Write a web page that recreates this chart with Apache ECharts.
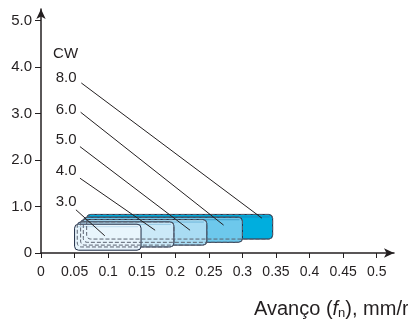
<!DOCTYPE html>
<html><head><meta charset="utf-8">
<script src="https://cdn.jsdelivr.net/npm/echarts@6/dist/echarts.min.js"></script>
<style>html,body{margin:0;padding:0;background:#fff}#c{width:408px;height:320px}</style>
</head><body><div id="c"></div>
<script>
// CW chipbreaker ranges (back to front)
const cwNames  = ['8.0', '6.0', '5.0', '4.0', '3.0'];
const feedMin  = [0.068, 0.063, 0.059, 0.054, 0.050];
const feedMax  = [0.345, 0.300, 0.247, 0.198, 0.149];
const depthMin = [0.30, 0.23, 0.17, 0.13, 0.06];
const depthMax = [0.83, 0.77, 0.72, 0.67, 0.62];
const boxColors = ['#00aede', '#6dc8ec', '#a9dcf3', '#cbe9f8', '#e8f5fc'];
const lidColors = ['#1d86b8', '#3f9fcc', '#6fb6da', '#94c8e4', '#b9d9ec'];

// label positions (data coords) and leader line ends
const labelText = ['CW', '8.0', '6.0', '5.0', '4.0', '3.0'];
const labelX    = [0.018, 0.022, 0.022, 0.022, 0.022, 0.022];
const labelY    = [4.29, 3.77, 3.08, 2.44, 1.77, 1.10];
const leadStartX = [0.060, 0.059, 0.058, 0.058, 0.052];
const leadStartY = [3.66, 3.03, 2.29, 1.61, 0.93];
const leadEndX   = [0.329, 0.272, 0.222, 0.170, 0.095];
const leadEndY   = [0.75, 0.60, 0.49, 0.49, 0.37];

const xTicks = [0, 0.5, 0.05];
const yTicks = [0, 5, 1];

const FONT = '"Liberation Sans", Arial, sans-serif';
const INK = '#231f20';

const boxData = cwNames.map((n, i) => [feedMin[i], feedMax[i], depthMin[i], depthMax[i], i]);

function boxItem(dashed) {
  return function (params, api) {
    const i = api.value(4);
    if (dashed && i === cwNames.length - 1) return null;
    const p1 = api.coord([api.value(0), api.value(3)]);
    const p2 = api.coord([api.value(1), api.value(2)]);
    const shape = { x: p1[0], y: p1[1], width: p2[0] - p1[0], height: p2[1] - p1[1], r: 4 };
    if (dashed) {
      return { type: 'rect', z2: i, shape: shape,
        style: { fill: 'none', stroke: '#5a6270', lineWidth: 1, lineDash: [4, 2] } };
    }
    return {
      type: 'group',
      children: [
        { type: 'rect', z2: i * 2, shape: shape,
          style: { fill: boxColors[i], stroke: '#1e2b45', lineWidth: 1 } },
        { type: 'line', z2: i * 2 + 1,
          shape: { x1: p1[0] + 3, y1: p1[1] + 2.5, x2: p2[0] - 3, y2: p1[1] + 2.5 },
          style: { stroke: lidColors[i], lineWidth: 1 } }
      ]
    };
  };
}

const chart = echarts.init(document.getElementById('c'), null, { renderer: 'canvas' });
chart.setOption({
  animation: false,
  textStyle: { fontFamily: FONT },
  title: {
    left: 249, top: 294,
    text: 'Avanço ({i|f}{s|n}), mm/r',
    textStyle: {
      fontFamily: FONT, fontSize: 20, fontWeight: 'normal', color: INK,
      rich: {
        i: { fontFamily: FONT, fontSize: 20, fontStyle: 'italic', color: INK },
        s: { fontFamily: FONT, fontSize: 13, color: INK, padding: [8, 0, 0, 0] }
      }
    }
  },
  grid: [
    { left: 41, right: 14, top: 9, bottom: 67 },
    { left: 41, right: 31.3, top: 20.7, bottom: 67 }
  ],
  xAxis: [
    { gridIndex: 0, type: 'value', min: 0, max: 0.526,
      axisLine: { show: true, symbol: ['none', 'arrow'], symbolSize: [7, 10], lineStyle: { color: INK, width: 1.5 } },
      axisTick: { show: false }, axisLabel: { show: false }, splitLine: { show: false } },
    { gridIndex: 1, type: 'value', min: xTicks[0], max: xTicks[1], interval: xTicks[2],
      axisLine: { show: false },
      axisTick: { show: true, length: 5, lineStyle: { color: INK, width: 1 } },
      axisLabel: { fontSize: 14, color: INK, margin: 12, fontFamily: FONT },
      splitLine: { show: false } }
  ],
  yAxis: [
    { gridIndex: 0, type: 'value', min: 0, max: 5.25,
      axisLine: { show: true, symbol: ['none', 'arrow'], symbolSize: [7, 10], lineStyle: { color: INK, width: 1.5 } },
      axisTick: { show: false }, axisLabel: { show: false }, splitLine: { show: false } },
    { gridIndex: 1, type: 'value', min: yTicks[0], max: yTicks[1], interval: yTicks[2],
      axisLine: { show: false },
      axisTick: { show: true, length: 6, lineStyle: { color: INK, width: 1 } },
      axisLabel: { fontSize: 15, color: INK, margin: 9, fontFamily: FONT,
        formatter: v => v === 0 ? '0' : v.toFixed(1) },
      splitLine: { show: false } }
  ],
  series: [
    { type: 'custom', xAxisIndex: 1, yAxisIndex: 1, clip: false, z: 2,
      renderItem: boxItem(false), data: boxData },
    { type: 'custom', xAxisIndex: 1, yAxisIndex: 1, clip: false, z: 3,
      renderItem: boxItem(true), data: boxData },
    { type: 'lines', coordinateSystem: 'cartesian2d', xAxisIndex: 1, yAxisIndex: 1, z: 4,
      lineStyle: { color: INK, width: 1, opacity: 1 },
      data: leadStartX.map((x, i) => ({ coords: [[x, leadStartY[i]], [leadEndX[i], leadEndY[i]]] })) },
    { type: 'custom', xAxisIndex: 1, yAxisIndex: 1, clip: false, z: 5,
      renderItem: function (params, api) {
        const p = api.coord([api.value(0), api.value(1)]);
        const i = params.dataIndex;
        return { type: 'text', x: p[0], y: p[1],
          style: { text: labelText[i], fill: INK, font: '15px ' + FONT, textAlign: 'left', textVerticalAlign: 'middle' } };
      },
      data: labelX.map((x, i) => [x, labelY[i]]) }
  ]
});
</script></body></html>
